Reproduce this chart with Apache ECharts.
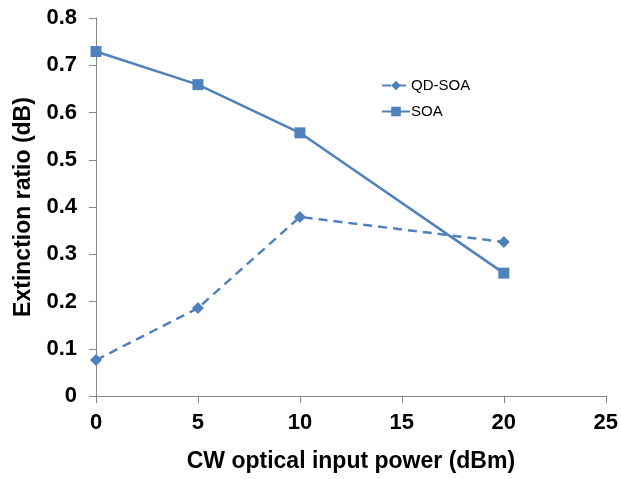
<!DOCTYPE html>
<html>
<head>
<meta charset="utf-8">
<script src="https://cdn.jsdelivr.net/npm/echarts@6/dist/echarts.min.js"></script>
<style>
  html, body { margin: 0; padding: 0; background: #fff; }
  #chart { width: 621px; height: 479px; }
</style>
</head>
<body>
<div id="chart"></div>
<script>
// input power (dBm)
const powerX = [0, 5, 10, 20];
// extinction ratio (dB)
const qdSoa = [0.076, 0.186, 0.379, 0.326];
const soa = [0.729, 0.659, 0.557, 0.26];

const blue = '#4F81BD';
const font = '"Liberation Sans", Arial, sans-serif';

const myChart = echarts.init(document.getElementById('chart'));

const option = {
  animation: false,
  backgroundColor: '#fff',
  grid: { left: 96, right: 13, top: 18, bottom: 83 },
  legend: {
    orient: 'vertical',
    left: 376,
    top: 73,
    itemWidth: 28,
    itemHeight: 12,
    itemGap: 11,
    selectedMode: false,
    textStyle: { color: '#000', fontSize: 15, fontFamily: font, padding: [0, 0, 0, -4] },
    data: ['QD-SOA', 'SOA']
  },
  xAxis: {
    type: 'value',
    min: 0,
    max: 25,
    interval: 5,
    name: 'CW optical input power (dBm)',
    nameLocation: 'middle',
    nameGap: 54,
    nameTextStyle: { color: '#000', fontSize: 23, fontWeight: 'bold', fontFamily: font },
    axisLine: { lineStyle: { color: '#868686', width: 1 } },
    axisTick: { show: true, length: 7, lineStyle: { color: '#868686' } },
    axisLabel: { color: '#000', fontSize: 22, fontWeight: 'bold', fontFamily: font, margin: 16 },
    splitLine: { show: false }
  },
  yAxis: {
    type: 'value',
    min: 0,
    max: 0.8,
    interval: 0.1,
    name: 'Extinction ratio (dB)',
    nameLocation: 'middle',
    nameGap: 61,
    nameTextStyle: { color: '#000', fontSize: 23, fontWeight: 'bold', fontFamily: font },
    axisLine: { show: true, lineStyle: { color: '#868686', width: 1 } },
    axisTick: { show: true, length: 7, lineStyle: { color: '#868686' } },
    axisLabel: {
      color: '#000', fontSize: 22, fontWeight: 'bold', fontFamily: font, margin: 19,
      formatter: v => (v === 0 ? '0' : v.toFixed(1))
    },
    splitLine: { show: false }
  },
  series: [
    {
      name: 'QD-SOA',
      type: 'line',
      data: powerX.map((x, i) => [x, qdSoa[i]]),
      symbol: 'diamond',
      symbolSize: 12,
      itemStyle: { color: blue },
      lineStyle: { color: blue, width: 2.5, type: [9, 6] }
    },
    {
      name: 'SOA',
      type: 'line',
      data: powerX.map((x, i) => [x, soa[i]]),
      symbol: 'rect',
      symbolSize: 11,
      itemStyle: { color: blue },
      lineStyle: { color: blue, width: 2.5 }
    }
  ]
};
myChart.setOption(option);
</script>
</body>
</html>
